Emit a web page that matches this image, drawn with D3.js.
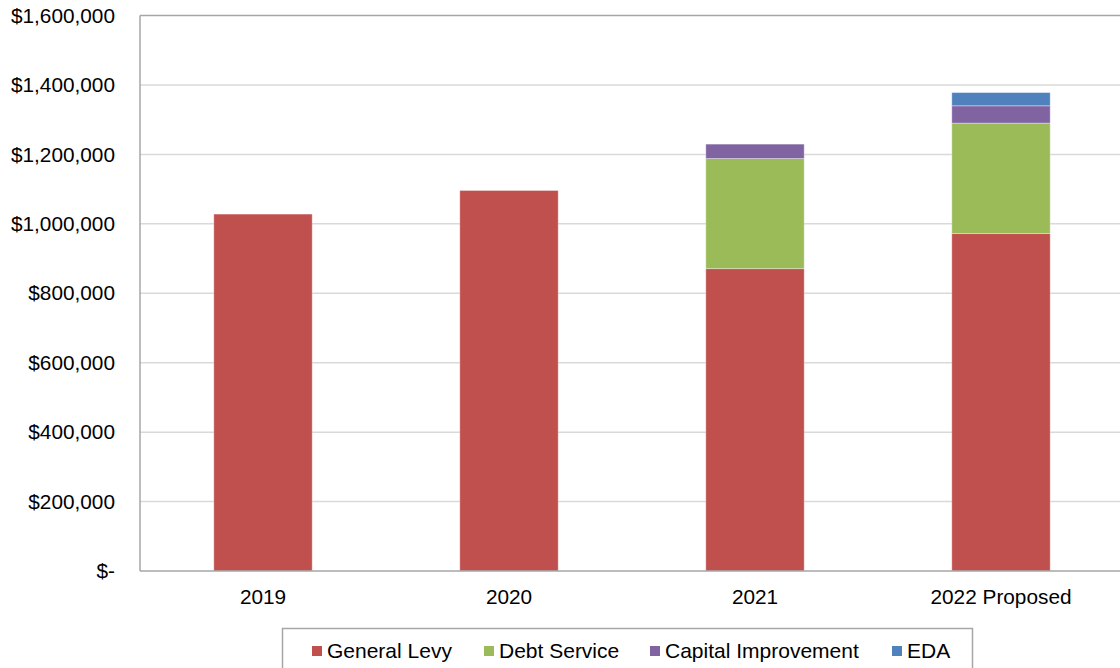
<!DOCTYPE html>
<html>
<head>
<meta charset="utf-8">
<script src="https://cdn.jsdelivr.net/npm/d3@7"></script>
<style>
  html, body { margin: 0; padding: 0; background: #fff; }
  svg { display: block; font-family: "Liberation Sans", Arial, sans-serif; }
</style>
</head>
<body>
<svg id="chart" width="1120" height="668"></svg>
<script>
// Levy by year, split by component
const years = ["2019", "2020", "2021", "2022 Proposed"];
const seriesNames = ["General Levy", "Debt Service", "Capital Improvement", "EDA"];
const generalLevy = [1028000, 1096000, 871000, 972000];
const debtService = [0, 0, 317000, 318000];
const capitalImprovement = [0, 0, 41500, 50000];
const eda = [0, 0, 0, 38000];
const yTicks = [0, 200000, 400000, 600000, 800000, 1000000, 1200000, 1400000, 1600000];
const colors = ["#C0504D", "#9BBB59", "#8064A2", "#4F81BD"];

const rows = years.map((yr, i) => ({
  year: yr,
  "General Levy": generalLevy[i],
  "Debt Service": debtService[i],
  "Capital Improvement": capitalImprovement[i],
  "EDA": eda[i]
}));

const svg = d3.select("#chart");
const plotLeft = 140, plotRight = 1124, plotTop = 15.5, plotBottom = 571;

const x = d3.scaleBand().domain(years).range([plotLeft, plotRight]).paddingInner(0.6).paddingOuter(0.3);
const y = d3.scaleLinear().domain([0, 1600000]).range([plotBottom, plotTop]);

// horizontal gridlines
svg.append("g").selectAll("line").data(yTicks.filter(t => t > 0 && t < 1600000)).join("line")
  .attr("x1", plotLeft).attr("x2", plotRight)
  .attr("y1", d => y(d)).attr("y2", d => y(d))
  .attr("stroke", "#d9d9d9").attr("stroke-width", 1.5);

// stacked bars
const stack = d3.stack().keys(seriesNames);
const layers = stack(rows);
svg.append("g").selectAll("g").data(layers).join("g")
  .attr("fill", (d, i) => colors[i])
  .selectAll("rect").data(d => d.filter(s => s[1] - s[0] > 0)).join("rect")
  .attr("x", d => x(d.data.year))
  .attr("width", x.bandwidth())
  .attr("y", d => y(d[1]))
  .attr("height", d => y(d[0]) - y(d[1]))
  .attr("stroke", "rgba(255,255,255,0.35)")
  .attr("stroke-width", 1);

// plot border (top and left) and baseline
svg.append("line").attr("x1", plotLeft).attr("x2", plotRight).attr("y1", plotTop).attr("y2", plotTop)
  .attr("stroke", "#a6a6a6").attr("stroke-width", 1.5);
svg.append("line").attr("x1", plotLeft).attr("x2", plotLeft).attr("y1", plotTop).attr("y2", plotBottom)
  .attr("stroke", "#a6a6a6").attr("stroke-width", 1.5);
svg.append("line").attr("x1", plotLeft).attr("x2", plotRight).attr("y1", plotBottom).attr("y2", plotBottom)
  .attr("stroke", "#a6a6a6").attr("stroke-width", 1.5);

// y axis labels
const yAxis = d3.axisLeft(y).tickValues(yTicks).tickSize(0).tickPadding(25)
  .tickFormat(d => d === 0 ? "$-" : "$" + d3.format(",")(d));
const gy = svg.append("g").attr("transform", `translate(${plotLeft},0)`).call(yAxis);
gy.select(".domain").remove();
gy.selectAll("text").attr("font-size", 20.8).attr("fill", "#000")
  .attr("font-family", "'Liberation Sans', Arial, sans-serif");

// x axis labels
const xAxis = d3.axisBottom(x).tickSize(0).tickPadding(18);
const gx = svg.append("g").attr("transform", `translate(0,${plotBottom})`).call(xAxis);
gx.select(".domain").remove();
gx.selectAll("text").attr("font-size", 20.8).attr("fill", "#000")
  .attr("font-family", "'Liberation Sans', Arial, sans-serif");

// legend
const legend = svg.append("g");
legend.append("rect").attr("x", 282.5).attr("y", 628.5).attr("width", 690).attr("height", 50)
  .attr("fill", "#fff").attr("stroke", "#a6a6a6").attr("stroke-width", 1.5);
const legendX = [312, 484, 650, 892];
const items = legend.selectAll("g.item").data(seriesNames).join("g").attr("class", "item")
  .attr("transform", (d, i) => `translate(${legendX[i]},651)`);
items.append("rect").attr("x", 0).attr("y", -5).attr("width", 10).attr("height", 10)
  .attr("fill", (d, i) => colors[i]);
items.append("text").attr("x", 15).attr("y", 0).attr("dy", "0.35em")
  .attr("font-size", 21).attr("fill", "#000").text(d => d);
</script>
</body>
</html>
